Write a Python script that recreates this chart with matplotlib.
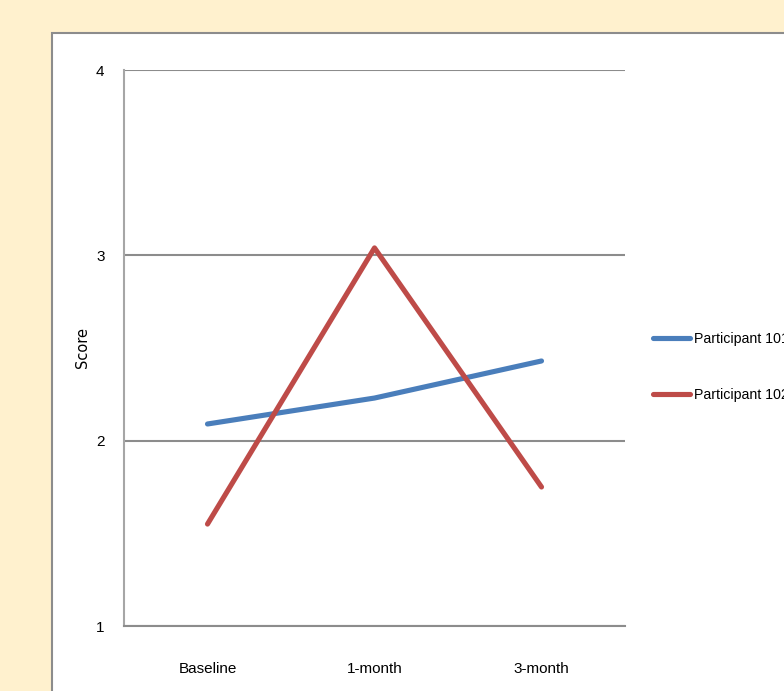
import matplotlib
matplotlib.use("Agg")
import matplotlib.pyplot as plt
from matplotlib.patches import Rectangle

# Scores at each assessment point
timepoints = ["Baseline", "1-month", "3-month"]
participant_a = [2.09, 2.23, 2.43]
participant_b = [1.55, 3.04, 1.75]
series_labels = ["Participant 101", "Participant 102"]
y_ticks = [1, 2, 3, 4]

W, H = 784, 691
fig = plt.figure(figsize=(W / 100, H / 100), dpi=100, facecolor="#FFF1CE")

# White chart area with a grey border, running off the right/bottom edges
panel = Rectangle((52 / W, -0.05), 1.0, 1 - 33 / H + 0.05,
                  transform=fig.transFigure, facecolor="white",
                  edgecolor="#8C8C8C", linewidth=1.5, zorder=-10)
fig.patches.append(panel)

font = ["Liberation Sans", "DejaVu Sans"]

ax = fig.add_axes([124 / W, (H - 626) / H, 501 / W, 556 / H])
ax.set_facecolor("none")
x = [i + 0.5 for i in range(len(timepoints))]
ax.plot(x, participant_a, color="#4A7EBB", lw=3.7, solid_capstyle="round",
        label=series_labels[0], zorder=3)
ax.plot(x, participant_b, color="#BE4B48", lw=3.7, solid_capstyle="round",
        label=series_labels[1], zorder=3)

ax.set_xlim(0, 3)
ax.set_ylim(1, 4)
ax.set_xticks(x)
ax.set_xticklabels(timepoints, fontsize=11, family=font)
ax.set_yticks(y_ticks)
ax.set_yticklabels([str(v) for v in y_ticks], fontsize=11, family=font)
ax.tick_params(axis="x", length=0, pad=26)
ax.tick_params(axis="y", length=0, pad=14)
ax.yaxis.grid(True, color="#8C8C8C", lw=1.5)
ax.set_axisbelow(True)
for side in ["top", "right"]:
    ax.spines[side].set_visible(False)
ax.spines["left"].set_color("#A6A6A6")
ax.spines["left"].set_linewidth(1.5)
ax.spines["bottom"].set_color("#8C8C8C")
ax.spines["bottom"].set_linewidth(1.5)
ax.set_ylabel("Score", fontsize=10.5, family=["DejaVu Sans"], labelpad=4)

leg = ax.legend(loc="center left", bbox_to_anchor=(640 / W, (H - 367) / H),
                bbox_transform=fig.transFigure, frameon=False,
                handlelength=2.6, handletextpad=0.3, labelspacing=2.95,
                prop={"family": font, "size": 10.2})

fig.savefig("out.png", dpi=100, facecolor=fig.get_facecolor())
